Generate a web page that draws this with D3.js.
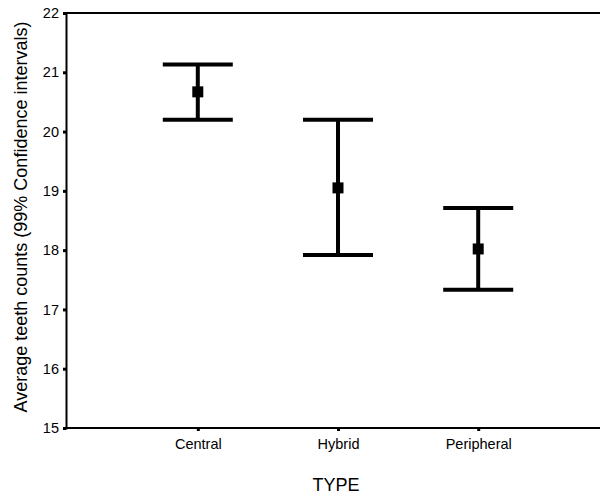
<!DOCTYPE html>
<html>
<head>
<meta charset="utf-8">
<script src="https://cdn.jsdelivr.net/npm/d3@7"></script>
<style>
  body { margin: 0; background: #fff; }
  text { font-family: "Liberation Sans", Arial, sans-serif; fill: #000; }
</style>
</head>
<body>
<svg id="chart" width="600" height="497"></svg>
<script>
// data
const categories = ["Central", "Hybrid", "Peripheral"];
const means = [20.67, 19.05, 18.02];
const lower = [20.2, 17.92, 17.33];
const upper = [21.13, 20.2, 18.71];
const yTicks = [15, 16, 17, 18, 19, 20, 21, 22];

const svg = d3.select("#chart");
const m = {top: 13, left: 66, bottom: 428};

const x = d3.scalePoint()
    .domain(categories)
    .range([m.left, 610])
    .padding(0.94);

const y = d3.scaleLinear()
    .domain([15, 22])
    .range([m.bottom, m.top]);

// y axis
const yAxis = svg.append("g")
    .attr("transform", `translate(${m.left},0)`)
    .call(d3.axisLeft(y).tickValues(yTicks).tickFormat(d3.format("d")).tickSize(3).tickPadding(4));
yAxis.select(".domain").attr("stroke-width", 2);
yAxis.selectAll(".tick line").attr("stroke-width", 3);
yAxis.selectAll(".tick text").attr("font-size", 14.5).style("font-family", "Liberation Sans, Arial, sans-serif");

// x axis
const xAxis = svg.append("g")
    .attr("transform", `translate(0,${m.bottom})`)
    .call(d3.axisBottom(x).tickSize(3).tickPadding(8));
xAxis.select(".domain").remove();
xAxis.selectAll(".tick line").attr("stroke-width", 3);
xAxis.selectAll(".tick text").attr("font-size", 14.5).style("font-family", "Liberation Sans, Arial, sans-serif");

// frame lines top and bottom
svg.append("line")
    .attr("x1", m.left).attr("x2", 600)
    .attr("y1", y(22)).attr("y2", y(22))
    .attr("stroke", "#000").attr("stroke-width", 2);
svg.append("line")
    .attr("x1", m.left).attr("x2", 600)
    .attr("y1", y(15)).attr("y2", y(15))
    .attr("stroke", "#000").attr("stroke-width", 2);

// error bars
const rows = categories.map((c, i) => ({c, mean: means[i], lo: lower[i], hi: upper[i]}));
const capW = 35;
const g = svg.append("g").attr("stroke", "#000").attr("stroke-width", 4);

g.selectAll(".stem").data(rows).join("line")
    .attr("x1", d => x(d.c)).attr("x2", d => x(d.c))
    .attr("y1", d => y(d.hi)).attr("y2", d => y(d.lo));
g.selectAll(".capTop").data(rows).join("line")
    .attr("x1", d => x(d.c) - capW).attr("x2", d => x(d.c) + capW)
    .attr("y1", d => y(d.hi)).attr("y2", d => y(d.hi));
g.selectAll(".capBot").data(rows).join("line")
    .attr("x1", d => x(d.c) - capW).attr("x2", d => x(d.c) + capW)
    .attr("y1", d => y(d.lo)).attr("y2", d => y(d.lo));

svg.selectAll(".mean").data(rows).join("rect")
    .attr("x", d => x(d.c) - 5.5).attr("y", d => y(d.mean) - 5.5)
    .attr("width", 11).attr("height", 11)
    .attr("fill", "#000");

// axis titles
svg.append("text")
    .attr("transform", `translate(27,217) rotate(-90)`)
    .attr("text-anchor", "middle")
    .attr("font-size", 18)
    .text("Average teeth counts (99% Confidence intervals)");

svg.append("text")
    .attr("x", 336).attr("y", 491)
    .attr("text-anchor", "middle")
    .attr("font-size", 18)
    .text("TYPE");
</script>
</body>
</html>
